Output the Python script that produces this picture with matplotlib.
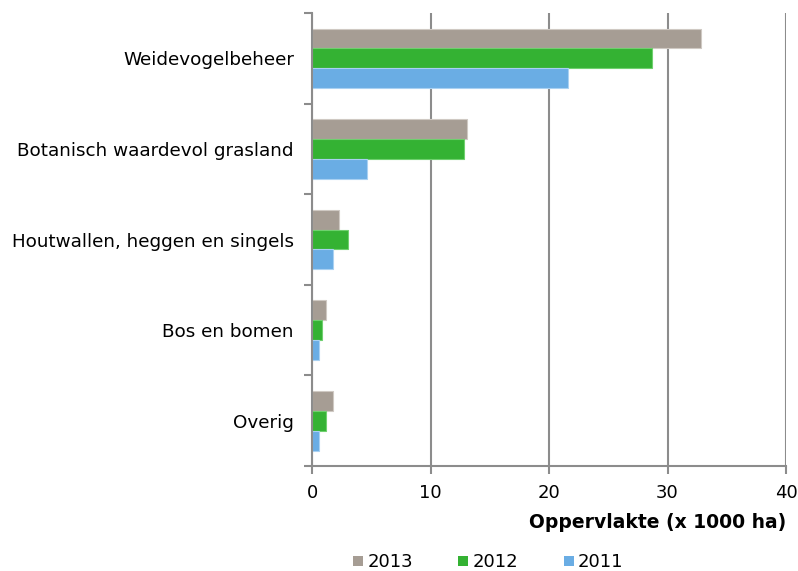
import numpy as np
import matplotlib.pyplot as plt
from matplotlib.patches import Patch

# ----------------------------
# Data (x 1000 ha)
# ----------------------------
categories = ["Weidevogelbeheer", "Botanisch waardevol grasland",
              "Houtwallen, heggen en singels", "Bos en bomen", "Overig"]
years = ["2013", "2012", "2011"]
v2013 = [32.8, 13.1, 2.3, 1.15, 1.8]
v2012 = [28.7, 12.8, 3.0, 0.85, 1.15]
v2011 = [21.6, 4.6, 1.8, 0.6, 0.6]

colors = ["#A69D94", "#34B233", "#6AADE4"]
edges = ["#CFC9C3", "#6FD06E", "#A9D1F2"]

plt.rcParams['font.family'] = ['DejaVu Sans']

fig = plt.figure(figsize=(7.98, 5.71), dpi=100)
ax = fig.add_axes([0.391, 0.184, 0.594, 0.793])

y = np.arange(len(categories))
h = 0.22
for i, vals in enumerate([v2013, v2012, v2011]):
    ax.barh(y + (i - 1) * h, vals, height=h, color=colors[i],
            edgecolor=edges[i], linewidth=0.8, zorder=3)

ax.set_ylim(len(categories) - 0.5, -0.5)
ax.set_xlim(0, 40)
ax.set_xticks([0, 10, 20, 30, 40])
ax.set_yticks(y)
ax.set_yticklabels(categories, fontsize=13.2)
ax.tick_params(axis='y', length=0, pad=13)
ax.set_yticks(np.arange(len(categories) + 1) - 0.5, minor=True)
ax.tick_params(axis='y', which='minor', length=6, width=1.5, color='#8C8C8C')
ax.tick_params(axis='x', length=6, width=1.5, color='#8C8C8C', labelsize=13, pad=7)

ax.grid(axis='x', color='#8C8C8C', linewidth=1.5, zorder=0)
for s in ['top', 'right']:
    ax.spines[s].set_visible(False)
for s in ['left', 'bottom']:
    ax.spines[s].set_color('#8C8C8C')
    ax.spines[s].set_linewidth(1.5)
    ax.spines[s].set_zorder(4)

ax.set_xlabel("Oppervlakte (x 1000 ha)", fontsize=13.5, fontweight='bold',
              loc='right', labelpad=8)

handles = [Patch(facecolor=c, edgecolor='none') for c in colors]
fig.legend(handles, years, loc='center', bbox_to_anchor=(0.612, 0.015),
           ncol=3, frameon=False, fontsize=13, handlelength=0.55,
           handleheight=0.55, columnspacing=2.5, handletextpad=0.25)

plt.savefig("out.png", dpi=100)
